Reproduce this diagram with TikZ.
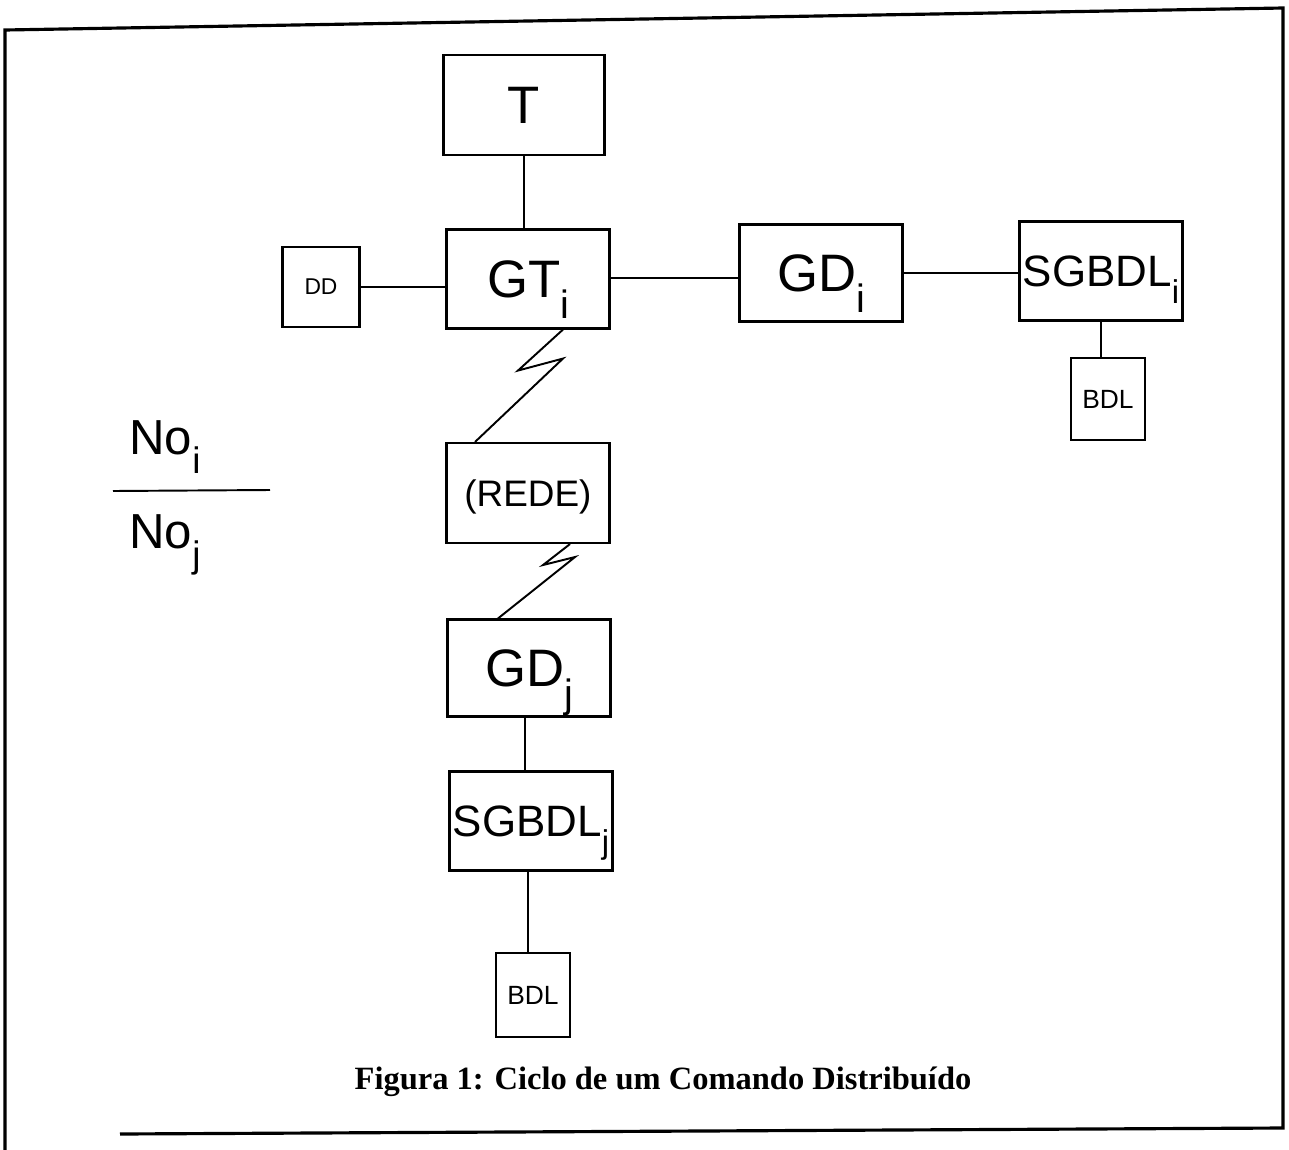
\documentclass[tikz,border=0pt]{standalone}
\usepackage{fontspec}
\setmainfont{Liberation Serif}
\setsansfont{Liberation Sans}
\usetikzlibrary{calc, positioning}

\newcommand{\sbi}[1]{\raisebox{-0.4em}{\scalebox{0.75}{#1}}}

\begin{document}
\begin{tikzpicture}[x=0.02cm, y=-0.02cm, line width=1.1pt,
  box/.style={draw, line width=1.2pt, inner sep=0pt, text depth=0pt, font=\sffamily},
  bigbox/.style={box, minimum width=3.26cm, minimum height=1.98cm, font=\sffamily\fontsize{30}{32}\selectfont},
  smallbox/.style={box, minimum width=1.48cm, minimum height=1.64cm, font=\sffamily\fontsize{15}{17}\selectfont}]
\useasboundingbox (0,0) rectangle (1289,1150);

% moldura
\draw[line width=1.8pt] (5,1150) -- (5,30) -- (1283,8) -- (1283,1128) -- (120,1134);

% blocos do no i
\node[bigbox, minimum width=3.22cm, minimum height=2.0cm] (T) at (524,105) {T};
\node[bigbox] (GTi) at (528,279) {GT\sbi{i}};
\node[smallbox, minimum width=1.54cm, minimum height=1.6cm, font=\sffamily\fontsize{13}{15}\selectfont] (DD) at (321,287) {DD};
\node[bigbox, minimum height=1.94cm] (GDi) at (821,273) {GD\sbi{i}};
\node[bigbox, font=\sffamily\fontsize{25}{27}\selectfont] (SGBDLi) at (1101,271) {SGBDL\sbi{i}};
\node[smallbox] (BDLi) at (1108,399) {BDL};

% rede e no j
\node[bigbox, minimum height=2.0cm, font=\sffamily\fontsize{21}{23}\selectfont] (REDE) at (528,493) {(REDE)};
\node[bigbox, minimum height=1.94cm] (GDj) at (529,668) {GD\sbi{j}};
\node[bigbox, font=\sffamily\fontsize{25}{27}\selectfont] (SGBDLj) at (531,821) {SGBDL\sbi{j}};
\node[smallbox, minimum height=1.68cm] (BDLj) at (533,995) {BDL};

% pontos de saida das ligacoes
\coordinate (gtR) at ($(GTi.east)+(0,-1)$);
\coordinate (gdjB) at ($(GDj.south)+(-4,0)$);
\coordinate (sgjB) at ($(SGBDLj.south)+(-3,0)$);

\draw (T.south) -- (T.south |- GTi.north);
\draw (DD.east) -- (DD.east -| GTi.west);
\draw (gtR) -- (gtR -| GDi.west);
\draw (GDi.east) -- (GDi.east -| SGBDLi.west);
\draw (SGBDLi.south) -- (SGBDLi.south |- BDLi.north);
\draw (gdjB) -- (gdjB |- SGBDLj.north);
\draw (sgjB) -- (sgjB |- BDLj.north);

% ligacoes pela rede
\draw ($(GTi.south)+(35,0)$) -- ++(-45,41) -- ++(45,-12) -- ($(REDE.north)+(-53,0)$);
\draw ($(REDE.south)+(42,0)$) -- ++(-27,21) -- ++(32,-8) -- ($(GDj.north)+(-31,0)$);

% nos
\node[font=\sffamily\fontsize{28}{30}\selectfont] (Noi) at (165,447) {No\sbi{i}};
\draw (113,491) -- (270,490);
\node[font=\sffamily\fontsize{28}{30}\selectfont] (Noj) at (165,545) {No\sbi{j}};

\node[font=\bfseries\fontsize{18.5}{20}\selectfont] (cap) at (663,1082) {Figura 1: Ciclo de um Comando Distribuído};
\end{tikzpicture}
\end{document}
